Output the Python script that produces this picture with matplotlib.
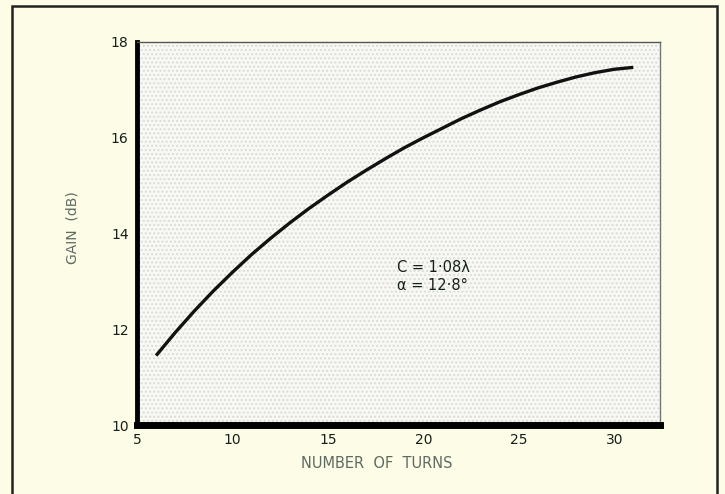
import matplotlib
matplotlib.use('Agg')
import matplotlib.pyplot as plt
from matplotlib.patches import Rectangle

# Gain of helical antenna vs number of turns
turns = [6, 7, 8, 9, 10, 11, 12, 13, 14, 15, 16, 17, 18, 19, 20,
         21, 22, 23, 24, 25, 26, 27, 28, 29, 30, 31]
gain_db = [11.45, 11.93, 12.38, 12.8, 13.19, 13.56, 13.9, 14.22, 14.52, 14.8,
           15.07, 15.32, 15.56, 15.79, 16.0, 16.2, 16.4, 16.58, 16.75, 16.9,
           17.04, 17.16, 17.27, 17.36, 17.43, 17.47]

x_ticks = [5, 10, 15, 20, 25, 30]
y_ticks = [10, 12, 14, 16, 18]

plt.rcParams['font.family'] = ['Liberation Sans Narrow', 'DejaVu Sans']

bg = '#fdfce6'
ink = '#15201a'
grey_ink = '#5f6b62'

fig = plt.figure(figsize=(7.25, 4.94), dpi=100, facecolor=bg)
ax = fig.add_axes([137 / 725, 1 - 425 / 494, 523 / 725, 383 / 494])
ax.set_facecolor('#f8f8f4')

# stippled plot area like the printed original
ax.add_patch(Rectangle((0, 0), 1, 1, transform=ax.transAxes, facecolor='none',
                       edgecolor='#dcdcd6', hatch='....', linewidth=0, zorder=0))

ax.plot(turns, gain_db, color='#111111', linewidth=2.4, solid_capstyle='butt', zorder=3)

ax.set_xlim(5, 32.4)
ax.set_ylim(10, 18)
ax.set_xticks(x_ticks)
ax.set_yticks(y_ticks)
ax.tick_params(length=0, pad=6, labelsize=10, labelcolor=ink)

ax.spines['left'].set_linewidth(3.5)
ax.spines['bottom'].set_linewidth(5)
ax.spines['top'].set_linewidth(1.0)
ax.spines['right'].set_linewidth(1.0)
ax.spines['top'].set_color('#555555')
ax.spines['right'].set_color('#777777')

ax.text(18.6, 13.1, 'C = 1·08λ\nα = 12·8°', fontsize=10.5, color=ink,
        ha='left', va='center', linespacing=1.3, zorder=4)

fig.text(72 / 725, 1 - 228 / 494, 'GAIN  (dB)', rotation=90, ha='center', va='center',
         fontsize=10, color=grey_ink)
fig.text(377 / 725, 1 - 463 / 494, 'NUMBER  OF  TURNS', ha='center', va='center',
         fontsize=10.5, color=grey_ink)

# outer frame of the printed figure
fig.add_artist(Rectangle((12 / 725, -0.05), 705 / 725, 1 - 6 / 494 + 0.05,
                         transform=fig.transFigure, facecolor='none',
                         edgecolor='#222222', linewidth=1.8))

fig.savefig('out.png', dpi=100, facecolor=bg)
